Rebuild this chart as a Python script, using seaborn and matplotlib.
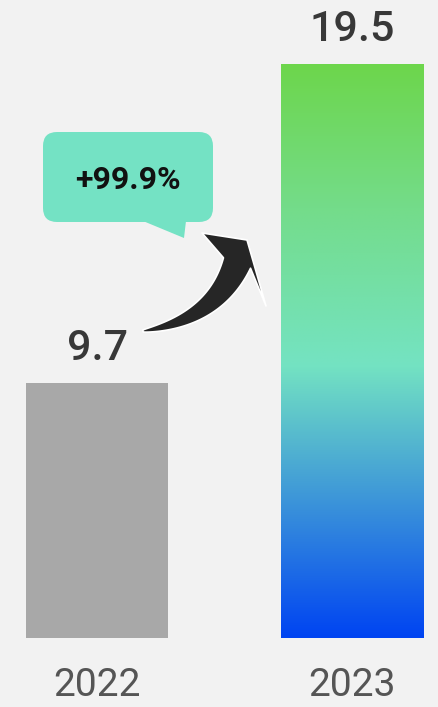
import numpy as np
import pandas as pd
import matplotlib
matplotlib.use("Agg")
import matplotlib.pyplot as plt
import seaborn as sns
from matplotlib.colors import LinearSegmentedColormap
from matplotlib.patches import FancyBboxPatch, Polygon

# Data
years = ["2022", "2023"]
values = [9.7, 19.5]
growth_label = "+99.9%"

BG = "#f2f2f2"
sns.set_theme(style="white")
plt.rcParams["font.family"] = ["Roboto", "DejaVu Sans"]

W, H, DPI = 439, 707, 100
fig = plt.figure(figsize=(W / DPI, H / DPI), dpi=DPI, facecolor=BG)
ax = fig.add_axes([0, (H - 638) / H, 1, 638 / H])
ax.set_facecolor(BG)

df = pd.DataFrame({"year": years, "value": values})
sns.barplot(data=df, x="year", y="value", ax=ax, width=0.557,
            color="#a8a8a8", saturation=1, edgecolor="none")

XLIM, YLIM = (-0.3804, 1.3412), (1.87, 21.47)
ax.set_xlim(*XLIM)
ax.set_ylim(*YLIM)
ax.axis("off")

# Gradient fill for the latest bar
cmap = LinearSegmentedColormap.from_list(
    "growth", [(0.0, "#0044f2"), (0.23, "#3a92da"), (0.476, "#74e3c2"),
               (0.75, "#74dc8a"), (1.0, "#6dd64c")])
bar = ax.patches[1]
x0, y0 = bar.get_x(), bar.get_y()
bw, bh = bar.get_width(), bar.get_height()
grad = np.linspace(0, 1, 256).reshape(-1, 1)
img = ax.imshow(grad, cmap=cmap, origin="lower", aspect="auto",
                extent=[x0, x0 + bw, max(y0, YLIM[0]), y0 + bh],
                zorder=bar.get_zorder() + 0.1)
img.set_clip_path(bar)
bar.set_facecolor("none")
ax.set_xlim(*XLIM)
ax.set_ylim(*YLIM)

# Value labels above bars
for p, v in zip(ax.patches, values):
    ax.annotate(f"{v:g}", (p.get_x() + p.get_width() / 2, p.get_height()),
                xytext=(0, 10), textcoords="offset points", ha="center", va="bottom",
                fontsize=31, fontweight="medium", color="#383838")

# Year labels under bars
for i, y in enumerate(years):
    fig.text(ax.transData.transform((i, 0))[0] / W, 1 - 686 / H, y,
             ha="center", va="center", fontsize=28, fontweight="normal",
             color="#555555")

# Speech bubble with growth rate (figure pixel coords, origin top-left)
def px(x, y):
    return (x / W, 1 - y / H)

bx0, by0 = px(43, 222)
bx1, by1 = px(213, 132)
bubble = FancyBboxPatch((bx0, by0), bx1 - bx0, by1 - by0,
                        boxstyle="round,pad=0,rounding_size=0.032",
                        transform=fig.transFigure, facecolor="#74e2c4",
                        edgecolor="none", mutation_aspect=W / H)
fig.patches.append(bubble)
tail = Polygon([px(143, 221), px(186, 221), px(184, 238)], closed=True,
               transform=fig.transFigure, facecolor="#74e2c4", edgecolor="none")
fig.patches.append(tail)
fig.text(*px(128, 180), growth_label, ha="center", va="center",
         fontsize=23, fontweight="bold", color="#111111")

# Curved, tapering arrow: quadratic centreline widening toward a swept head
p0, c, p2 = np.array([143., 331.]), np.array([215., 320.]), np.array([237., 263.])
t = np.linspace(0, 1, 60)[:, None]
centre = (1 - t) ** 2 * p0 + 2 * (1 - t) * t * c + t ** 2 * p2
deriv = 2 * (1 - t) * (c - p0) + 2 * t * (p2 - c)
tang = deriv / np.linalg.norm(deriv, axis=1, keepdims=True)
normal = np.column_stack([-tang[:, 1], tang[:, 0]])
half_w = (1.0 + 13.5 * t[:, 0] ** 0.8)[:, None]
edge_a = centre + normal * half_w
edge_b = centre - normal * half_w
# decide which edge is the upper-left one
if edge_a[-1, 0] < edge_b[-1, 0]:
    upper, lower = edge_a, edge_b
else:
    upper, lower = edge_b, edge_a
head = np.array([[202., 233.], [247., 240.], [266., 306.]])
outline = np.vstack([upper, head, lower[::-1]])
arrow = Polygon([px(x, y) for x, y in outline], closed=True,
                transform=fig.transFigure, facecolor="#262626",
                edgecolor="white", linewidth=1.2, joinstyle="round")
fig.patches.append(arrow)

fig.savefig("out.png", dpi=DPI, facecolor=BG)
